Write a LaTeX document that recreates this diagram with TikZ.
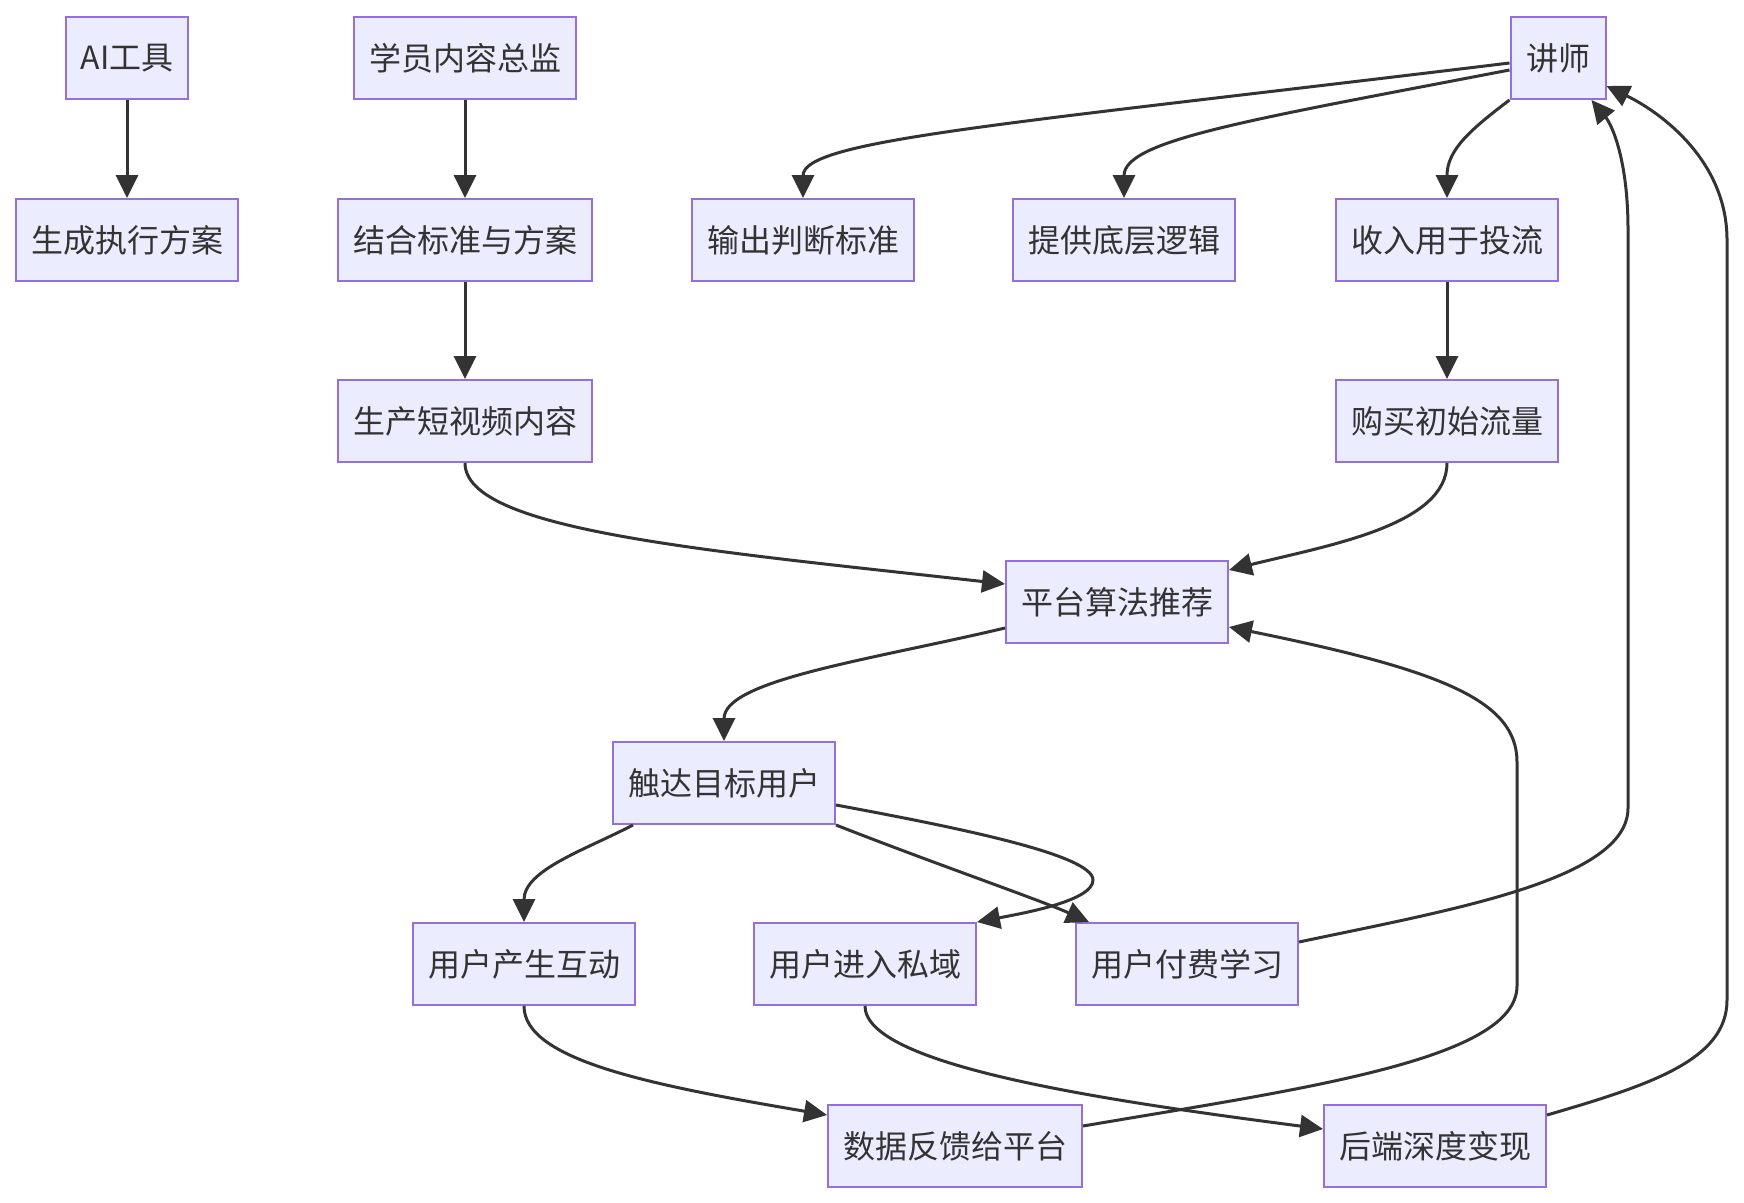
\documentclass[tikz,border=0pt]{standalone}
\usepackage{fontspec}
\setmainfont{Noto Sans CJK SC}
\usetikzlibrary{arrows.meta}
\definecolor{nodefill}{HTML}{ECECFF}
\definecolor{nodeline}{HTML}{9370DB}
\definecolor{edgecol}{HTML}{333333}
\begin{document}
\begin{tikzpicture}[x=1pt,y=-1pt,
  box/.style={draw=nodeline, fill=nodefill, line width=2pt, minimum height=82pt,
    inner sep=0pt, text=edgecol, font=\fontsize{32}{38}\selectfont},
  conn/.style={draw=edgecol, line width=3pt, -{Triangle[length=23pt,width=22pt]}}
]
\useasboundingbox[fill=white] (0,0) rectangle (1744,1202);

% nodes
\node[box, minimum width=122pt] (ai)  at (127,58)   {AI工具};
\node[box, minimum width=222pt] (xy)  at (465,58)   {学员内容总监};
\node[box, minimum width=95pt]  (js)  at (1558,58)  {讲师};
\node[box, minimum width=222pt] (sc)  at (127,240)  {生成执行方案};
\node[box, minimum width=254pt] (jh)  at (465,240)  {结合标准与方案};
\node[box, minimum width=222pt] (sp)  at (803,240)  {输出判断标准};
\node[box, minimum width=222pt] (tg)  at (1124,240) {提供底层逻辑};
\node[box, minimum width=222pt] (sr)  at (1447,240) {收入用于投流};
\node[box, minimum width=254pt] (scn) at (465,421)  {生产短视频内容};
\node[box, minimum width=222pt] (gm)  at (1447,421) {购买初始流量};
\node[box, minimum width=222pt] (pt)  at (1117,602) {平台算法推荐};
\node[box, minimum width=222pt] (cd)  at (724,783)  {触达目标用户};
\node[box, minimum width=222pt] (hd)  at (524,964)  {用户产生互动};
\node[box, minimum width=222pt] (sy)  at (865,964)  {用户进入私域};
\node[box, minimum width=222pt] (ff)  at (1187,964) {用户付费学习};
\node[box, minimum width=254pt] (sj)  at (955,1146) {数据反馈给平台};
\node[box, minimum width=222pt] (hs)  at (1435,1146) {后端深度变现};

% straight connectors
\draw[conn] (ai) -- (sc);
\draw[conn] (xy) -- (jh);
\draw[conn] (jh) -- (scn);
\draw[conn] (sr) -- (gm);

% from 讲师
\draw[conn] ([yshift=-5pt]js.west) .. controls (1000,125) and (803,140) .. (sp.north);
\draw[conn] ([yshift=-12pt]js.west) .. controls (1250,120) and (1124,140) .. (tg.north);
\draw[conn] (js.south west) .. controls (1470,130) and (1447,150) .. (sr.north);

% into 平台算法推荐
\draw[conn] (scn.south) .. controls (465,530) and (700,550) .. ([yshift=18pt]pt.west);
\draw[conn] (gm.south) .. controls (1447,525) and (1330,545) .. ([yshift=32pt]pt.east);
\draw[conn] ([yshift=20pt]sj.east) .. controls (1300,1089) and (1517,1060) .. (1517,986)
  -- (1517,762) .. controls (1517,700) and (1440,670) .. ([yshift=-25pt]pt.east);

% from 平台算法推荐
\draw[conn] ([yshift=-26pt]pt.west) .. controls (870,660) and (724,680) .. (cd.north);

% from 触达目标用户
\draw[conn] ([xshift=21pt]cd.south west) .. controls (585,850) and (524,870) .. (hd.north);
\draw[conn] ([yshift=-22pt]cd.east) .. controls (960,828) and (1093,855) .. (1093,880)
  .. controls (1093,900) and (1030,912) .. (sy.north east);
\draw[conn] (cd.south east) .. controls (930,862) and (1040,900) .. ([xshift=14pt]ff.north west);

% back to 讲师
\draw[conn] ([yshift=22pt]ff.east) .. controls (1450,910) and (1628,880) .. (1628,808)
  -- (1628,230) .. controls (1628,160) and (1612,125) .. ([xshift=-15pt]js.south east);
\draw[conn] ([yshift=31pt]hs.east) .. controls (1650,1085) and (1727,1060) .. (1727,1000)
  -- (1727,240) .. controls (1727,160) and (1660,112) .. ([yshift=-28pt]js.east);

% bottom row
\draw[conn] (hd.south) .. controls (524,1060) and (650,1085) .. ([yshift=31pt]sj.west);
\draw[conn] (sy.south) .. controls (865,1065) and (1100,1100) .. ([yshift=17pt]hs.west);
\end{tikzpicture}
\end{document}
